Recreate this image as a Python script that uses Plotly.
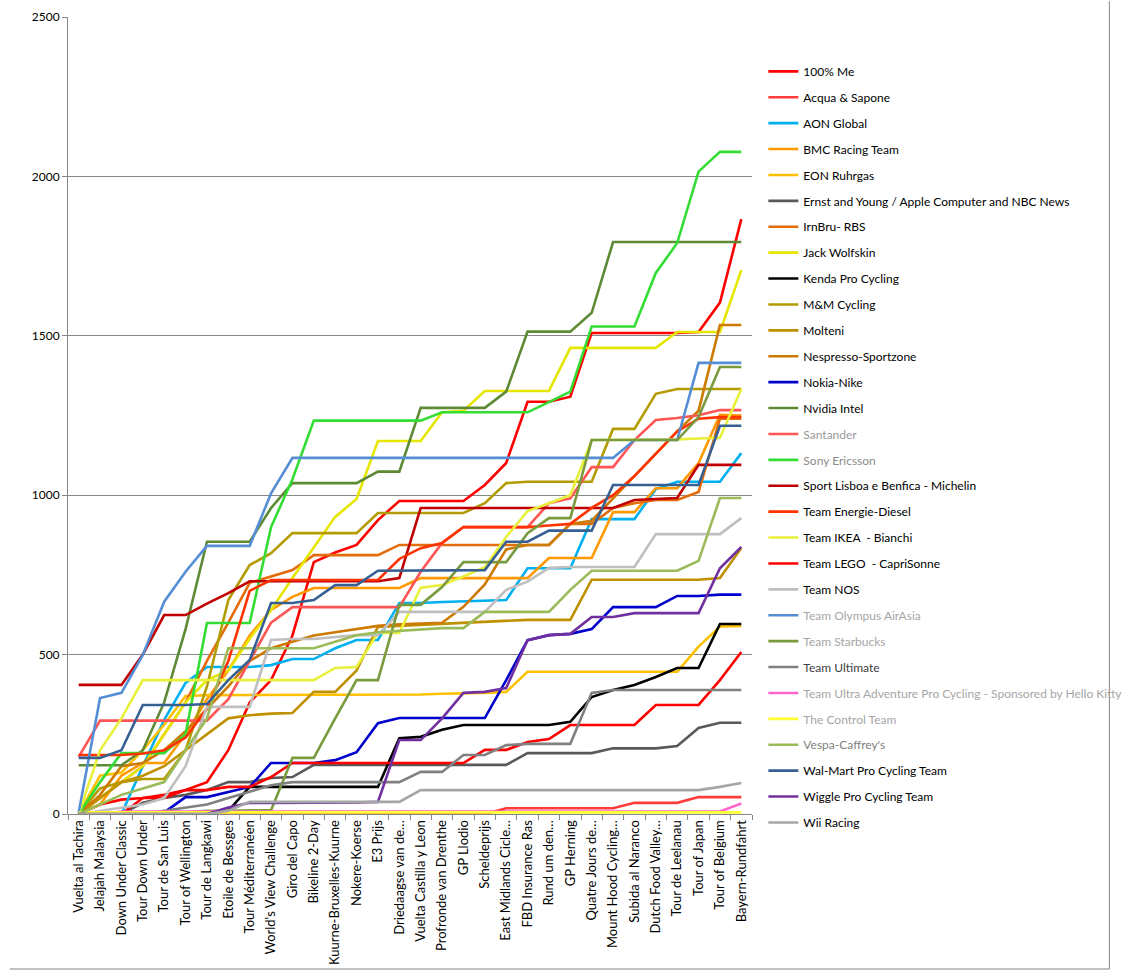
import plotly.graph_objects as go

categories = ["Vuelta al Tachira", "Jelajah Malaysia", "Down Under Classic", "Tour Down Under",
              "Tour de San Luis", "Tour of Wellington", "Tour de Langkawi", "Etoile de Bessges",
              "Tour Méditerranéen", "World's View Challenge", "Giro del Capo", "Bikeline 2-Day",
              "Kuurne-Bruxelles-Kuurne", "Nokere-Koerse", "E3 Prijs", "Driedaagse van de…",
              "Vuelta Castilla y Leon", "Profronde van Drenthe", "GP Llodio", "Scheldeprijs",
              "East Midlands Cicle…", "FBD Insurance Ras", "Rund um den…", "GP Herning",
              "Quatre Jours de…", "Mount Hood Cycling…", "Subida al Naranco", "Dutch Food Valley…",
              "Tour de Leelanau", "Tour of Japan", "Tour of Belgium", "Bayern-Rundfahrt"]

me_100 = [0,30,45,50,60,75,100,200,350,420,560,790,820,844,922,982,982,982,982,1032,1101,1293,1293,1309,1509,1509,1509,1509,1509,1512,1604,1866]
acqua = [0]*20 + [18,18,18,18,18,18,35,35,35,53,53,53]
aon = [0,0,0,150,295,411,461,461,461,467,486,486,520,546,546,662,662,665,667,669,671,771,771,771,925,925,925,1019,1042,1042,1042,1132]
bmc = [0,30,120,160,160,250,360,450,560,640,681,709,709,709,709,709,740,740,740,740,740,740,803,803,803,947,947,1022,1022,1101,1252,1250]
eon = [0,120,130,200,280,370,373,373,373,373,373,373,373,373,373,373,375,377,378,380,383,446,446,446,446,446,446,446,446,525,588,590]
ernst = [0,0,0,35,50,60,75,100,100,113,116,154,154,154,154,154,154,154,154,154,154,191,191,191,191,206,206,206,213,270,286,286]
irnbru = [0,50,100,150,250,350,480,600,725,744,765,812,812,812,812,844,844,844,844,844,844,844,844,910,910,960,975,985,985,1010,1240,1240]
jack = [0,50,100,150,250,350,420,450,550,640,740,838,932,988,1170,1170,1170,1260,1265,1327,1327,1327,1327,1462,1462,1462,1462,1462,1512,1512,1512,1706]
kenda = [0,0,0,0,0,0,0,10,85,85,85,85,85,85,85,238,242,264,279,279,279,279,279,289,367,389,405,430,458,458,596,596]
mm = [0,80,100,110,110,200,400,671,781,818,881,881,881,881,944,944,944,944,944,975,1038,1042,1042,1042,1042,1208,1208,1318,1333,1333,1333,1333]
molteni = [0,50,100,120,150,200,250,300,310,315,317,383,383,450,587,590,595,598,600,602,605,609,609,609,735,735,735,735,735,735,740,834]
nespresso = [0,60,150,160,200,260,330,400,480,520,540,560,570,580,590,595,598,600,650,720,830,844,844,910,920,990,1060,1130,1200,1265,1534,1534]
nokia = [0,0,0,0,5,53,53,70,85,160,160,160,169,194,285,301,301,301,301,301,420,545,561,565,580,649,649,649,684,684,688,688]
nvidia = [153,153,153,200,350,580,854,854,854,960,1038,1038,1038,1038,1074,1074,1274,1274,1274,1274,1325,1513,1513,1513,1572,1794,1794,1794,1794,1794,1794,1794]
santander = [179,293,293,293,293,293,293,360,480,600,649,649,649,649,649,649,760,850,900,900,900,900,975,990,1088,1088,1173,1236,1242,1251,1267,1267]
sony = [0,100,191,191,191,250,599,599,599,900,1050,1234,1234,1234,1234,1234,1234,1260,1260,1260,1260,1260,1292,1325,1529,1529,1529,1697,1791,2015,2077,2077]
benfica = [405,405,405,500,624,624,660,693,730,730,730,730,730,730,730,740,960,960,960,960,960,960,960,960,960,960,985,988,991,1095,1095,1095]
energie = [185,185,185,190,200,240,330,480,700,734,734,734,734,734,734,800,834,850,900,900,900,900,905,910,960,1000,1060,1130,1200,1240,1245,1245]
ikea = [0,200,300,420,420,420,420,420,420,420,420,420,458,461,568,568,710,718,745,774,869,950,975,1000,1173,1173,1173,1175,1175,1178,1180,1333]
lego = [0,0,0,50,50,75,75,85,85,116,160,160,160,160,160,160,160,160,160,201,201,226,235,279,279,279,279,342,342,342,420,508]
nos = [0,10,20,30,50,150,336,336,336,546,549,549,555,561,561,634,634,634,634,634,703,729,772,775,775,775,775,878,878,878,878,928]
olympus = [5,364,380,499,666,760,841,841,841,1006] + [1117]*16 + [1173,1173,1173,1415,1415,1415]
starbucks = [0,0,0,0,0,5,10,10,10,12,176,176,300,420,420,656,656,712,790,790,790,881,928,928,1173,1173,1173,1173,1173,1245,1402,1402]
ultimate = [0,0,0,0,10,20,30,50,70,90,100,100,100,100,100,100,132,132,185,185,216,220,220,220,380,389,389,389,389,389,389,389]
hellokitty = [0,0] + [8]*29 + [33]
control = [5]*32
vespa = [0,30,60,80,100,200,300,520,520,520,520,520,540,561,570,575,580,583,583,634,634,634,634,703,763,763,763,763,763,794,991,991]
walmart = [176,176,200,342,342,342,345,420,483,662,662,671,718,718,763,763,763,763,763,765,854,854,889,889,889,1032,1032,1032,1032,1032,1218,1218]
wiggle = [0,0,0,0,0,0,0,20,35,35,35,35,35,36,38,232,232,300,380,383,395,545,561,565,618,618,630,630,630,630,771,838]
wii = [0]*7 + [10] + [38]*8 + [75]*14 + [85,97]

series = [
    ("100% Me", me_100, "#FF0000", None),
    ("Acqua & Sapone", acqua, "#FF3B3B", None),
    ("AON Global", aon, "#00B0F0", None),
    ("BMC Racing Team", bmc, "#FF9900", None),
    ("EON Ruhrgas", eon, "#FFC000", None),
    ("Ernst and Young / Apple Computer and NBC News", ernst, "#595959", None),
    ("IrnBru- RBS", irnbru, "#E46C0A", None),
    ("Jack Wolfskin", jack, "#E6E600", None),
    ("Kenda Pro Cycling", kenda, "#000000", None),
    ("M&M Cycling", mm, "#B39B00", None),
    ("Molteni", molteni, "#BF9000", None),
    ("Nespresso-Sportzone", nespresso, "#CC7A00", None),
    ("Nokia-Nike", nokia, "#0000CC", None),
    ("Nvidia Intel", nvidia, "#5E8A35", None),
    ("Santander", santander, "#FF5555", "#999999"),
    ("Sony Ericsson", sony, "#33DD33", "#8C8C8C"),
    ("Sport Lisboa e Benfica - Michelin", benfica, "#C00000", None),
    ("Team Energie-Diesel", energie, "#FF3300", None),
    ("Team IKEA  - Bianchi", ikea, "#E8F03A", None),
    ("Team LEGO  - CapriSonne", lego, "#FF0000", None),
    ("Team NOS", nos, "#BFBFBF", None),
    ("Team Olympus AirAsia", olympus, "#558ED5", "#A6A6A6"),
    ("Team Starbucks", starbucks, "#7A9A3E", "#A6A6A6"),
    ("Team Ultimate", ultimate, "#808080", "#404040"),
    ("Team Ultra Adventure Pro Cycling - Sponsored by Hello Kitty", hellokitty, "#FF66CC", "#A6A6A6"),
    ("The Control Team", control, "#FFFF33", "#A6A6A6"),
    ("Vespa-Caffrey's", vespa, "#9BBB59", "#808080"),
    ("Wal-Mart Pro Cycling Team", walmart, "#376092", None),
    ("Wiggle Pro Cycling Team", wiggle, "#7030A0", None),
    ("Wii Racing", wii, "#A6A6A6", None),
]

fig = go.Figure()
for i, (name, vals, color, txtcol) in enumerate(series):
    label = name if txtcol is None else f"<span style='color:{txtcol}'>{name}</span>"
    fig.add_trace(go.Scatter(
        x=categories, y=vals, mode="lines", name=label,
        line=dict(color=color, width=2.6),
        legendgroup=f"g{i}",
    ))

fig.update_layout(
    width=1139, height=973,
    margin=dict(l=68, r=370, t=17, b=159),
    paper_bgcolor="white", plot_bgcolor="white",
    font=dict(family="Lato, Liberation Sans, sans-serif", size=12, color="black"),
    showlegend=True,
    legend=dict(x=1.0166, y=0.950, xanchor="left", yanchor="top",
                tracegroupgap=6.9, itemwidth=30,
                font=dict(size=12, color="black"),
                bgcolor="rgba(0,0,0,0)"),
    xaxis=dict(type="category", tickangle=-90, showgrid=False, showline=True,
               linecolor="#868686", linewidth=1, ticks="outside", ticklen=5,
               tickcolor="#868686", tickson="boundaries", tickfont=dict(size=13),
               automargin=False, range=[-0.5, len(categories) - 0.5]),
    yaxis=dict(range=[0, 2500], dtick=500, showgrid=True, gridcolor="#868686",
               gridwidth=1, showline=True, linecolor="#868686", linewidth=1,
               ticks="outside", ticklen=5, tickcolor="#868686", zeroline=False,
               automargin=False, tickfont=dict(size=12)),
    shapes=[
        dict(type="line", xref="paper", yref="paper", x0=1.5225, x1=1.5225,
             y0=-0.1945, y1=1.02, line=dict(color="#868686", width=1)),
        dict(type="line", xref="paper", yref="paper", x0=-0.085, x1=1.5225,
             y0=-0.1945, y1=-0.1945, line=dict(color="#868686", width=1)),
    ],
)

fig.write_html("out.html")
